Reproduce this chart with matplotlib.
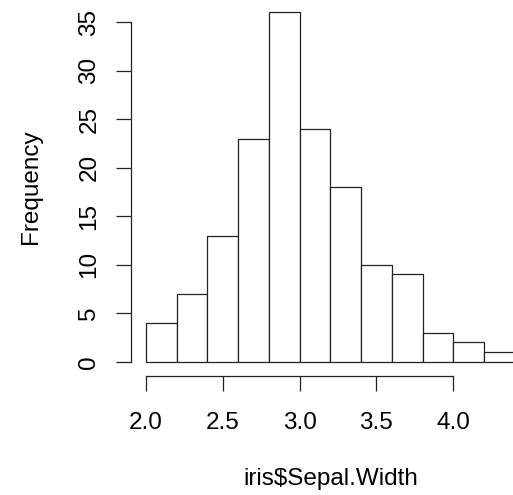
import matplotlib
matplotlib.use("Agg")
import matplotlib.pyplot as plt

# histogram of iris$Sepal.Width (R default breaks)
bin_edges = [2.0, 2.2, 2.4, 2.6, 2.8, 3.0, 3.2, 3.4, 3.6, 3.8, 4.0, 4.2, 4.4]
counts = [4, 7, 13, 23, 36, 24, 18, 10, 9, 3, 2, 1]
x_ticks = [2.0, 2.5, 3.0, 3.5, 4.0]
y_ticks = [0, 5, 10, 15, 20, 25, 30, 35]

plt.rcParams["font.family"] = ["Liberation Sans", "DejaVu Sans"]
plt.rcParams["font.size"] = 17.5

W, H = 513, 495
fig = plt.figure(figsize=(W / 100, H / 100), dpi=100)

# plot region reaches past the right edge, as in the cropped reference
left, right, top, bottom = 131, 529.6, -1.5, 375.7
ax = fig.add_axes([left / W, 1 - bottom / H, (right - left) / W, (bottom - top) / H])

widths = [b - a for a, b in zip(bin_edges[:-1], bin_edges[1:])]
ax.bar(bin_edges[:-1], counts, width=widths, align="edge",
       facecolor="white", edgecolor="#222222", linewidth=0.9)

xr = bin_edges[-1] - bin_edges[0]
ax.set_xlim(bin_edges[0] - 0.04 * xr, bin_edges[-1] + 0.04 * xr)
ax.set_ylim(-0.04 * max(counts), max(counts) * 1.04)

for s in ["top", "right"]:
    ax.spines[s].set_visible(False)
ax.spines["left"].set_bounds(y_ticks[0], y_ticks[-1])
ax.spines["bottom"].set_bounds(x_ticks[0], x_ticks[-1])
for s in ["left", "bottom"]:
    ax.spines[s].set_linewidth(0.9)
    ax.spines[s].set_color("#222222")

ax.set_xticks(x_ticks)
ax.set_xticklabels([f"{v:.1f}" for v in x_ticks])
ax.set_yticks(y_ticks)
ax.set_yticklabels([str(v) for v in y_ticks], rotation=90, va="center")
ax.tick_params(direction="out", length=11, width=0.9, color="#222222")
ax.tick_params(axis="x", pad=15)
ax.tick_params(axis="y", pad=11)

fig.text(331 / W, 1 - 479 / H, "iris$Sepal.Width", ha="center", va="center")
fig.text(31 / W, 1 - 187 / H, "Frequency", ha="center", va="center", rotation=90)

fig.savefig("out.png", dpi=100)
